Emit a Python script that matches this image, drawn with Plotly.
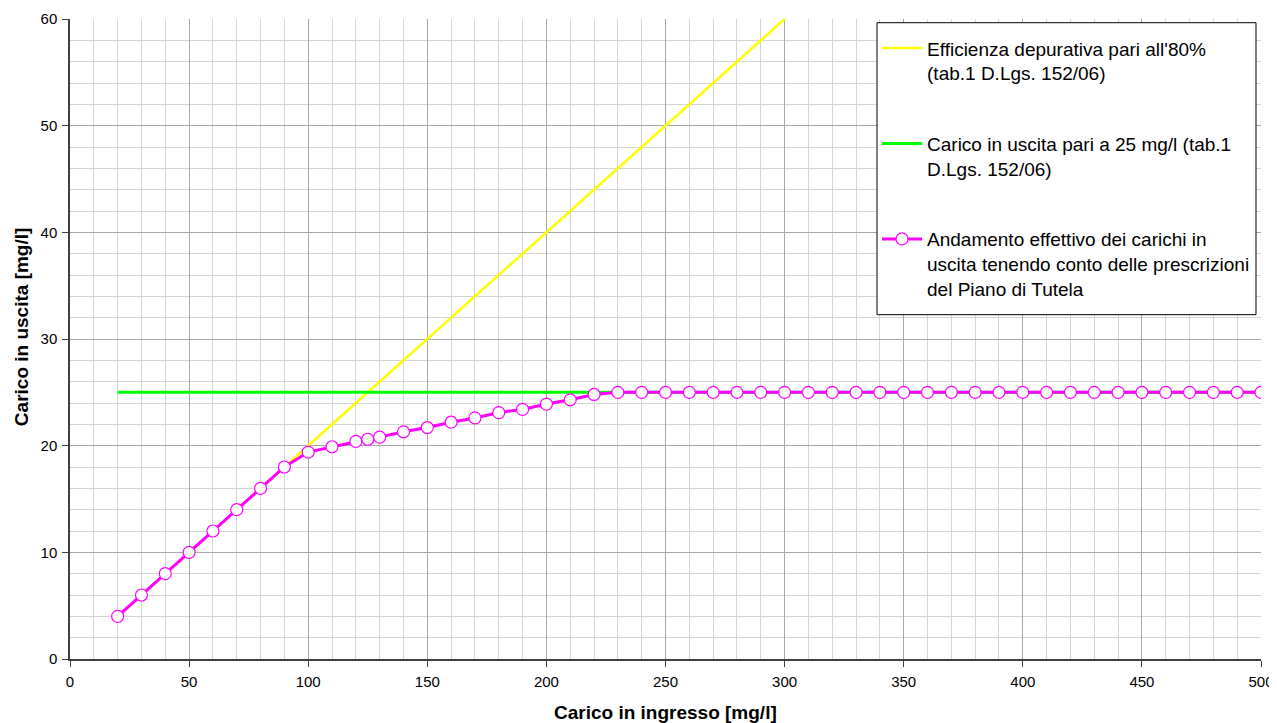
import plotly.graph_objects as go

# ---- data ----
x_eff = [20, 30, 40, 50, 60, 70, 80, 90, 100, 110, 120, 130, 140, 150, 160, 170, 180,
         190, 200, 210, 220, 230, 240, 250, 260, 270, 280, 290, 300, 310]
y_eff = [4, 6, 8, 10, 12, 14, 16, 18, 20, 22, 24, 26, 28, 30, 32, 34, 36,
         38, 40, 42, 44, 46, 48, 50, 52, 54, 56, 58, 60, 62]

x_lim = [20, 500]
y_lim = [25, 25]

x_act = [20, 30, 40, 50, 60, 70, 80, 90, 100, 110, 120, 125, 130, 140, 150, 160, 170,
         180, 190, 200, 210, 220, 230, 240, 250, 260, 270, 280, 290, 300, 310, 320,
         330, 340, 350, 360, 370, 380, 390, 400, 410, 420, 430, 440, 450, 460, 470,
         480, 490, 500]
y_act = [4, 6, 8, 10, 12, 14, 16, 18, 19.4, 19.9, 20.4, 20.6, 20.8, 21.3, 21.7, 22.2, 22.6,
         23.1, 23.4, 23.9, 24.3, 24.8, 25, 25, 25, 25, 25, 25, 25, 25, 25, 25,
         25, 25, 25, 25, 25, 25, 25, 25, 25, 25, 25, 25, 25, 25, 25,
         25, 25, 25]

name_eff = "Efficienza depurativa pari all'80%<br>(tab.1 D.Lgs. 152/06)"
name_lim = "Carico in uscita pari a 25 mg/l (tab.1<br>D.Lgs. 152/06)"
name_act = "Andamento effettivo dei carichi in<br>uscita tenendo conto delle prescrizioni<br>del Piano di Tutela"

x_title = "Carico in ingresso [mg/l]"
y_title = "Carico in uscita [mg/l]"

FONT = "Liberation Sans, Arial, sans-serif"

fig = go.Figure()
fig.add_trace(go.Scatter(x=x_eff, y=y_eff, mode="lines", name=name_eff, legendgroup="a",
                         line=dict(color="#FFFF00", width=2.5)))
fig.add_trace(go.Scatter(x=x_lim, y=y_lim, mode="lines", name=name_lim, legendgroup="b",
                         line=dict(color="#00FF00", width=3)))
fig.add_trace(go.Scatter(x=x_act, y=y_act, mode="lines+markers", name=name_act, legendgroup="c",
                         line=dict(color="#FF00FF", width=3),
                         marker=dict(symbol="circle", size=12, color="white",
                                     line=dict(color="#FF00FF", width=1.2))))

# legend frame (white box with black border) drawn as a paper-anchored rectangle
fig.add_shape(type="rect", xref="paper", yref="paper",
              x0=0.6776, x1=0.9958, y0=0.538, y1=0.9942,
              fillcolor="white", line=dict(color="black", width=1), layer="above")

# axis titles
fig.add_annotation(text="<b>" + x_title + "</b>", xref="paper", yref="paper",
                   x=0.5, y=-0.083, xanchor="center", yanchor="middle", showarrow=False,
                   font=dict(family=FONT, size=19, color="black"))
fig.add_annotation(text="<b>" + y_title + "</b>", xref="paper", yref="paper",
                   x=-0.0406, y=0.518, xanchor="center", yanchor="middle", showarrow=False,
                   textangle=-90, font=dict(family=FONT, size=19, color="black"))

# page body adds an 8px offset, so the figure is sized/margined to compensate
fig.update_layout(
    width=1269, height=715,
    margin=dict(l=62, r=16, t=11, b=64, autoexpand=False),
    paper_bgcolor="white", plot_bgcolor="white",
    font=dict(family=FONT, color="black", size=15),
    legend=dict(x=0.6776, y=0.984, xanchor="left", yanchor="top",
                bgcolor="rgba(0,0,0,0)", borderwidth=0,
                font=dict(family=FONT, size=19, color="black"),
                valign="top", tracegroupgap=43, traceorder="grouped",
                itemwidth=40),
)
fig.update_xaxes(
    range=[0, 500], dtick=50, tick0=0, automargin=False,
    showgrid=True, gridcolor="#a8a8a8", gridwidth=1,
    minor=dict(dtick=10, showgrid=True, gridcolor="#d4d4d4", gridwidth=1),
    showline=True, linecolor="#404040", linewidth=1.5,
    ticks="outside", ticklen=6, tickcolor="#404040",
    ticklabelstandoff=2,
    zeroline=False,
    tickfont=dict(family=FONT, size=15, color="black"),
)
fig.update_yaxes(
    range=[0, 60], dtick=10, tick0=0, automargin=False,
    showgrid=True, gridcolor="#a8a8a8", gridwidth=1,
    minor=dict(dtick=2, showgrid=True, gridcolor="#d4d4d4", gridwidth=1),
    showline=True, linecolor="#404040", linewidth=1.5,
    ticks="outside", ticklen=6, tickcolor="#404040",
    ticklabelstandoff=2,
    zeroline=False,
    tickfont=dict(family=FONT, size=15, color="black"),
)

fig.write_html("out.html")
